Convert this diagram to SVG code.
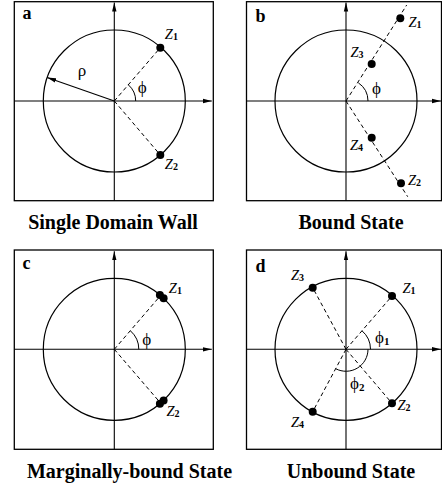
<svg xmlns="http://www.w3.org/2000/svg" width="442" height="487" viewBox="0 0 442 487">
<style>
.box{fill:none;stroke:#000;stroke-width:1.3}
.ax{fill:none;stroke:#000;stroke-width:1.1}
.circ{fill:none;stroke:#000;stroke-width:1.2}
.dash{fill:none;stroke:#000;stroke-width:1;stroke-dasharray:4 3}
.arc{fill:none;stroke:#000;stroke-width:1}
.dot{fill:#000}
.pl{font-family:"Liberation Serif",serif;font-weight:bold;font-size:18px}
.ttl{font-family:"Liberation Serif",serif;font-weight:bold;font-size:20px;text-anchor:middle}
.z{font-family:"Liberation Serif",serif;font-style:italic;font-size:14.5px}
.sub{font-style:normal;font-size:10px;font-weight:bold}
.gr{font-family:"Liberation Serif","DejaVu Serif",serif;font-size:17px}
.gsub{font-size:11px;font-weight:bold}
</style>
<defs>
<marker id="ah" markerWidth="9" markerHeight="6" refX="9" refY="3" orient="auto" markerUnits="userSpaceOnUse">
<path d="M0,0.8 L9,3 L0,5.2 z" fill="#000"/>
</marker>
</defs>

<g id="panel-a" transform="translate(114.3,101)">
<rect class="box" x="-100" y="-99.3" width="199" height="199"/>
<line class="ax" x1="-100" y1="0" x2="97.5" y2="0" marker-end="url(#ah)"/>
<line class="ax" x1="0" y1="99.7" x2="0" y2="-98.5" marker-end="url(#ah)"/>
<circle class="circ" cx="0" cy="0" r="71"/>
<g id="conn-a">
<line class="dash" x1="0" y1="0" x2="46" y2="-53.3"/>
<line class="dash" x1="0" y1="0" x2="46" y2="54"/>
<line class="ax" x1="0" y1="0" x2="-67.2" y2="-23.5" marker-end="url(#ah)"/>
<path class="arc" d="M21.4,0 A21.4,21.4 0 0 0 14,-16.2"/>
</g>
<circle class="dot" cx="46" cy="-53.3" r="4"/>
<circle class="dot" cx="46" cy="54" r="4"/>
<text class="gr" x="-36.5" y="-25.5">ρ</text>
<text class="gr" x="23.5" y="-8">ϕ</text>
<text class="z" x="50.5" y="-62.5">Z<tspan class="sub" dy="1">1</tspan></text>
<text class="z" x="50.5" y="67.5">Z<tspan class="sub" dy="1">2</tspan></text>
</g>
<text class="pl" x="22.5" y="18.5">a</text>
<text class="ttl" x="113" y="229.3">Single Domain Wall</text>

<g id="panel-b" transform="translate(346,101)">
<rect class="box" x="-99.5" y="-99.3" width="195" height="199"/>
<line class="ax" x1="-99.5" y1="0" x2="95" y2="0" marker-end="url(#ah)"/>
<line class="ax" x1="0" y1="99.7" x2="0" y2="-98.5" marker-end="url(#ah)"/>
<circle class="circ" cx="0" cy="0" r="71"/>
<g id="conn-b">
<line class="dash" x1="0" y1="0" x2="60.7" y2="-96"/>
<line class="dash" x1="0" y1="0" x2="61.7" y2="95.7"/>
<path class="arc" d="M22,0 A22,22 0 0 0 12.3,-18.2"/>
</g>
<circle class="dot" cx="54.3" cy="-82.7" r="4"/>
<circle class="dot" cx="25.7" cy="-37" r="4"/>
<circle class="dot" cx="25.7" cy="36.7" r="4"/>
<circle class="dot" cx="55" cy="82.3" r="4"/>
<text class="gr" x="26" y="-6.7">ϕ</text>
<text class="z" x="62.5" y="-74">Z<tspan class="sub" dy="1">1</tspan></text>
<text class="z" x="4.5" y="-44.3">Z<tspan class="sub" dy="1">3</tspan></text>
<text class="z" x="4" y="49">Z<tspan class="sub" dy="1">4</tspan></text>
<text class="z" x="62" y="84">Z<tspan class="sub" dy="1">2</tspan></text>
</g>
<text class="pl" x="255.5" y="22">b</text>
<text class="ttl" x="351" y="229.3">Bound State</text>

<g id="panel-c" transform="translate(114.3,349.3)">
<rect class="box" x="-100" y="-99.3" width="199" height="199.3"/>
<line class="ax" x1="-100" y1="0" x2="97.5" y2="0" marker-end="url(#ah)"/>
<line class="ax" x1="0" y1="100" x2="0" y2="-98" marker-end="url(#ah)"/>
<circle class="circ" cx="0" cy="0" r="71"/>
<g id="conn-c">
<line class="dash" x1="0" y1="0" x2="45.6" y2="-53"/>
<line class="dash" x1="0" y1="0" x2="45.6" y2="53"/>
<path class="arc" d="M24.5,0 A24.5,24.5 0 0 0 16.2,-18.4"/>
</g>
<circle class="dot" cx="49.3" cy="-51.1" r="4"/>
<circle class="dot" cx="45.6" cy="-54.4" r="4"/>
<circle class="dot" cx="49.3" cy="51.1" r="4"/>
<circle class="dot" cx="45.6" cy="54.4" r="4"/>
<text class="gr" x="28" y="-4.5">ϕ</text>
<text class="z" x="54.5" y="-56">Z<tspan class="sub" dy="1">1</tspan></text>
<text class="z" x="52.2" y="67">Z<tspan class="sub" dy="1">2</tspan></text>
</g>
<text class="pl" x="22.5" y="269.3">c</text>
<text class="ttl" x="129.5" y="477.5">Marginally-bound State</text>

<g id="panel-d" transform="translate(346,349.3)">
<rect class="box" x="-99.5" y="-99.3" width="195" height="199.3"/>
<line class="ax" x1="-99.5" y1="0" x2="95" y2="0" marker-end="url(#ah)"/>
<line class="ax" x1="0" y1="100" x2="0" y2="-98" marker-end="url(#ah)"/>
<circle class="circ" cx="0" cy="0" r="71"/>
<g id="conn-d">
<line class="dash" x1="0" y1="0" x2="46" y2="-53.3"/>
<line class="dash" x1="0" y1="0" x2="-33.3" y2="-61.6"/>
<line class="dash" x1="0" y1="0" x2="46" y2="54"/>
<line class="dash" x1="0" y1="0" x2="-33.3" y2="62.4"/>
<path class="arc" d="M24.5,0 A24.5,24.5 0 0 0 16,-18.5"/>
<path class="arc" d="M22,0 A22,22 0 0 1 -10.3,19.4"/>
</g>
<circle class="dot" cx="46" cy="-53.3" r="4"/>
<circle class="dot" cx="-33.3" cy="-61.6" r="4"/>
<circle class="dot" cx="46" cy="54" r="4"/>
<circle class="dot" cx="-33.3" cy="62.4" r="4"/>
<text class="gr" x="29" y="-6.3">ϕ<tspan class="gsub" dy="2">1</tspan></text>
<text class="gr" x="4" y="39.7">ϕ<tspan class="gsub" dy="2">2</tspan></text>
<text class="z" x="-55" y="-69.3">Z<tspan class="sub" dy="1">3</tspan></text>
<text class="z" x="56.5" y="-56">Z<tspan class="sub" dy="1">1</tspan></text>
<text class="z" x="51.5" y="60.7">Z<tspan class="sub" dy="1">2</tspan></text>
<text class="z" x="-55" y="77.4">Z<tspan class="sub" dy="1">4</tspan></text>
</g>
<text class="pl" x="255.5" y="271.5">d</text>
<text class="ttl" x="351" y="477.5">Unbound State</text>
</svg>
